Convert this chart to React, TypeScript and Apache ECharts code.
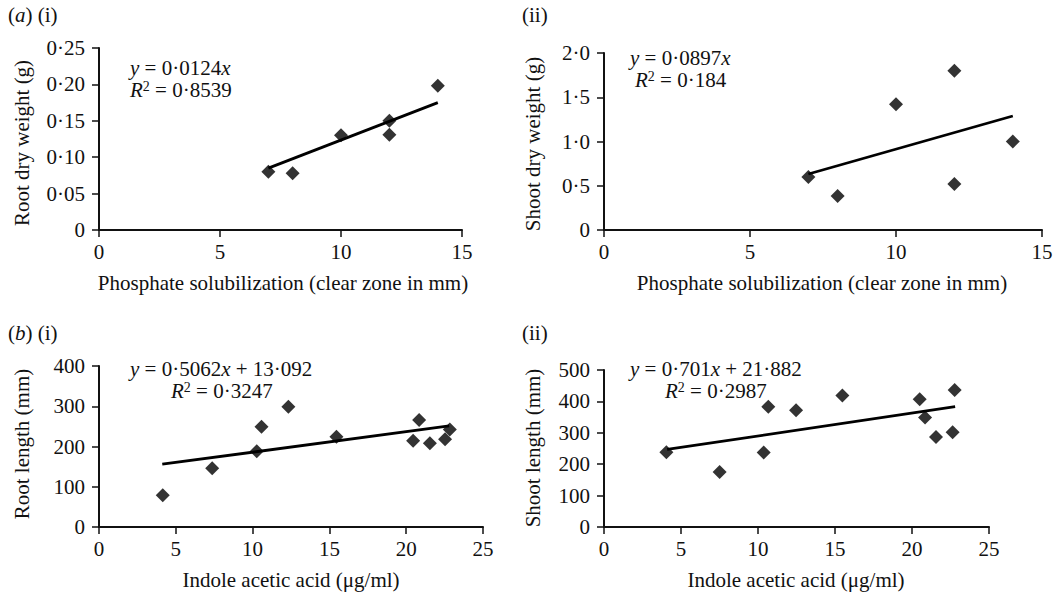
import React, { useEffect, useRef } from "react";
import * as echarts from "echarts";

// ---------- data ----------
const phosSolubilization = [7, 8, 10, 12, 12, 14];
const rootDryWeight = [0.08, 0.078, 0.13, 0.15, 0.131, 0.198];
const shootDryWeight = [0.6, 0.385, 1.42, 1.8, 0.52, 1.0];

const iaaRoot = [4.15, 7.37, 10.27, 10.58, 12.33, 15.46, 20.45, 20.84, 21.54, 22.53, 22.84];
const rootLength = [79, 146, 188, 249, 299, 224, 214, 266, 208, 218, 242];

const iaaShoot = [4.05, 7.51, 10.37, 10.67, 12.47, 15.48, 20.5, 20.85, 21.56, 22.64, 22.77];
const shootLength = [238, 175, 237, 383, 372, 419, 407, 349, 287, 302, 436];

// trend line end points
const trendA1 = [[7, 0.085], [14, 0.175]];
const trendA2 = [[7, 0.633], [14, 1.288]];
const trendB1 = [[4.12, 156], [22.8, 251]];
const trendB2 = [[4.1, 247], [22.8, 383]];

// tick labels
const xTicksA = ["0", "5", "10", "15"];
const xTicksB = ["0", "5", "10", "15", "20", "25"];
const yTicksA1 = ["0", "0·05", "0·10", "0·15", "0·20", "0·25"];
const yTicksA2 = ["0", "0·5", "1·0", "1·5", "2·0"];
const yTicksB1 = ["0", "100", "200", "300", "400"];
const yTicksB2 = ["0", "100", "200", "300", "400", "500"];

const F = "'Liberation Serif', 'Times New Roman', serif";
const FS = 21;
const INK = "#111";

const zip = (xs: number[], ys: number[]) => xs.map((x, i) => [x, ys[i]]);

export default function App() {
  const ref = useRef<HTMLDivElement>(null);
  useEffect(() => {
    if (!ref.current) return;
    const chart = echarts.init(ref.current, undefined, { renderer: "svg" });

    const grids = [
      { left: 99, top: 48, width: 363, height: 182 },
      { left: 604, top: 53, width: 438, height: 177 },
      { left: 99, top: 366, width: 384, height: 161 },
      { left: 604, top: 370, width: 385, height: 157 },
    ];

    const axisCommon = {
      axisLine: { show: true, lineStyle: { color: INK, width: 2 } },
      axisTick: { show: true, inside: false, length: 7, lineStyle: { color: INK, width: 1.5 } },
      splitLine: { show: false },
    };

    const xAxis = (gi: number, max: number, labels: string[]) => ({
      type: "value",
      gridIndex: gi,
      min: 0,
      max,
      interval: 5,
      ...axisCommon,
      axisLabel: {
        margin: 11,
        fontFamily: F,
        fontSize: FS,
        color: INK,
        formatter: (v: number) => labels[Math.round(v / 5)] ?? "",
      },
    });
    const yAxis = (gi: number, max: number, interval: number, labels: string[]) => ({
      type: "value",
      gridIndex: gi,
      min: 0,
      max,
      interval,
      ...axisCommon,
      axisLabel: {
        margin: 14,
        fontFamily: F,
        fontSize: FS,
        color: INK,
        formatter: (v: number) => labels[Math.round(v / interval)] ?? "",
      },
    });

    const scatter = (gi: number, data: number[][]) => ({
      type: "scatter",
      xAxisIndex: gi,
      yAxisIndex: gi,
      data,
      symbol: "diamond",
      symbolSize: [14, 14],
      itemStyle: { color: "#000" },
      z: 5,
    });
    const trend = (gi: number, data: number[][]) => ({
      type: "line",
      xAxisIndex: gi,
      yAxisIndex: gi,
      data,
      showSymbol: false,
      lineStyle: { color: "#000", width: 2.8 },
      z: 3,
    });

    const rich = {
      n: { fontFamily: F, fontSize: FS, color: INK },
      i: { fontFamily: F, fontSize: FS, color: INK, fontStyle: "italic" },
      s: { fontFamily: F, fontSize: 14, color: INK, verticalAlign: "top" },
    };
    const txt = (x: number, y: number, text: string, align = "left", rotation = 0) => ({
      type: "text",
      x,
      y,
      rotation,
      style: {
        text,
        rich,
        fontFamily: F,
        fontSize: FS,
        fill: INK,
        align,
        verticalAlign: "middle",
      },
    });

    chart.setOption({
      animation: false,
      backgroundColor: "#fff",
      grid: grids,
      xAxis: [xAxis(0, 15, xTicksA), xAxis(1, 15, xTicksA), xAxis(2, 25, xTicksB), xAxis(3, 25, xTicksB)],
      yAxis: [
        yAxis(0, 0.25, 0.05, yTicksA1),
        yAxis(1, 2, 0.5, yTicksA2),
        yAxis(2, 400, 100, yTicksB1),
        yAxis(3, 500, 100, yTicksB2),
      ],
      series: [
        trend(0, trendA1),
        scatter(0, zip(phosSolubilization, rootDryWeight)),
        trend(1, trendA2),
        scatter(1, zip(phosSolubilization, shootDryWeight)),
        trend(2, trendB1),
        scatter(2, zip(iaaRoot, rootLength)),
        trend(3, trendB2),
        scatter(3, zip(iaaShoot, shootLength)),
      ],
      graphic: [
        // panel labels
        txt(8, 15, "{n|(}{i|a}{n|) (i)}"),
        txt(522, 15, "{n|(ii)}"),
        txt(8, 333, "{n|(}{i|b}{n|) (i)}"),
        txt(522, 333, "{n|(ii)}"),
        // equations
        txt(130, 68, "{i|y}{n| = 0·0124}{i|x}"),
        txt(130, 90, "{i|R}{s|2}{n| = 0·8539}"),
        txt(630, 58, "{i|y}{n| = 0·0897}{i|x}"),
        txt(635, 80, "{i|R}{s|2}{n| = 0·184}"),
        txt(130, 369, "{i|y}{n| = 0·5062}{i|x}{n| + 13·092}"),
        txt(171, 391, "{i|R}{s|2}{n| = 0·3247}"),
        txt(630, 369, "{i|y}{n| = 0·701}{i|x}{n| + 21·882}"),
        txt(665, 391, "{i|R}{s|2}{n| = 0·2987}"),
        // axis titles
        txt(283, 283, "{n|Phosphate solubilization (clear zone in mm)}", "center"),
        txt(822, 283, "{n|Phosphate solubilization (clear zone in mm)}", "center"),
        txt(291, 580, "{n|Indole acetic acid (μg/ml)}", "center"),
        txt(796, 580, "{n|Indole acetic acid (μg/ml)}", "center"),
        txt(22, 143, "{n|Root dry weight (g)}", "center", Math.PI / 2),
        txt(533, 144, "{n|Shoot dry weight (g)}", "center", Math.PI / 2),
        txt(22, 444, "{n|Root length (mm)}", "center", Math.PI / 2),
        txt(533, 448, "{n|Shoot length (mm)}", "center", Math.PI / 2),
      ],
    });

    return () => chart.dispose();
  }, []);

  return (
    <div
      ref={ref}
      style={{ position: "fixed", left: 0, top: 0, width: 1060, height: 592, background: "#fff" }}
    />
  );
}
